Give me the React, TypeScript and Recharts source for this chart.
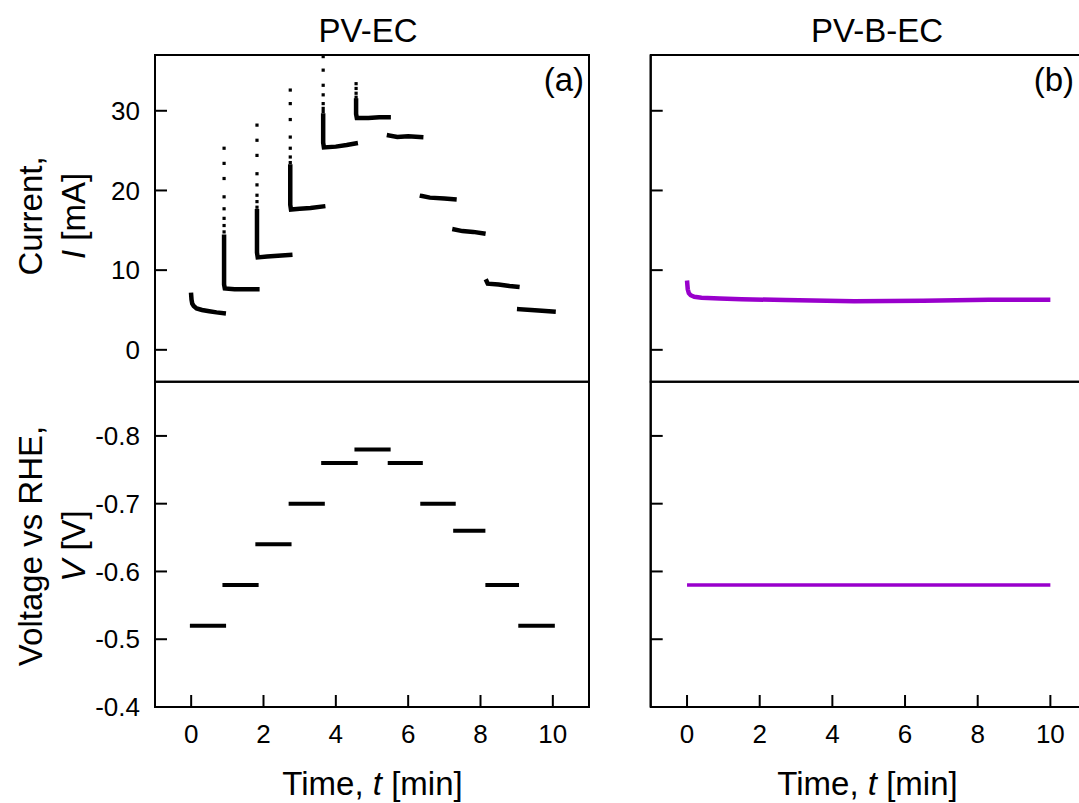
import { LineChart, Line, XAxis, YAxis, ReferenceArea } from 'recharts'

const FONT = '"Liberation Sans", Arial, Helvetica, sans-serif'
const BLACK = '#000000'
const PURPLE = '#9900cc'

// axes
const timeTicks = [0, 2, 4, 6, 8, 10]
const timeDomain = [-1, 11]
const currentTicks = [0, 10, 20, 30]
const currentDomain = [-4, 37]
const voltageTicks = [-0.8, -0.7, -0.6, -0.5, -0.4]
const voltageDomain = [-0.88, -0.4]

// PV-EC: applied voltage steps
const stepStart = [0.02, 0.92, 1.83, 2.75, 3.65, 4.57, 5.49, 6.39, 7.3, 8.19, 9.1]
const stepEnd = [0.91, 1.81, 2.72, 3.64, 4.55, 5.46, 6.35, 7.26, 8.08, 9.01, 10.0]
const stepVoltage = [-0.52, -0.58, -0.64, -0.7, -0.76, -0.78, -0.76, -0.7, -0.66, -0.58, -0.52]

// PV-EC: sparse current points right after a step up
const spikeTime = [0.91, 1.82, 2.74, 3.65, 4.56]
const spikeCurrent = [
  [25.3, 23.4, 21.5, 19.2, 17.7, 16.5, 15.6, 14.8],
  [28.2, 26.3, 24.4, 22.1, 20.7, 19.4, 18.6, 17.9],
  [32.6, 30.9, 28.9, 26.7, 25.3, 24.2, 23.5],
  [36.8, 35.1, 33.2, 32.0, 30.9, 30.3, 29.9],
  [33.4, 32.8, 32.2, 31.7],
]

// PV-EC: dense current trace per step, [t, I]
const ecTrace1 = [[0.0, 6.9], [0.01, 6.3], [0.03, 5.8], [0.07, 5.5], [0.15, 5.2], [0.3, 5.0], [0.5, 4.85], [0.7, 4.7], [0.9, 4.6]]
const ecTrace2 = [[0.91, 14.2], [0.91, 8.2], [0.93, 7.7], [1.2, 7.6], [1.5, 7.6], [1.83, 7.6]]
const ecTrace3 = [[1.82, 17.4], [1.82, 12.2], [1.84, 11.6], [2.1, 11.7], [2.4, 11.8], [2.74, 11.9]]
const ecTrace4 = [[2.74, 23.0], [2.74, 18.2], [2.76, 17.6], [3.0, 17.7], [3.3, 17.8], [3.65, 18.0]]
const ecTrace5 = [[3.65, 29.4], [3.65, 26.0], [3.67, 25.4], [4.0, 25.5], [4.3, 25.7], [4.55, 25.9]]
const ecTrace6 = [[4.56, 31.3], [4.56, 29.6], [4.58, 29.1], [4.9, 29.1], [5.2, 29.2], [5.46, 29.2]]
const ecTrace7 = [[5.47, 26.9], [5.7, 26.7], [6.0, 26.8], [6.36, 26.7]]
const ecTrace8 = [[6.38, 19.3], [6.6, 19.1], [7.0, 19.0], [7.28, 18.9]]
const ecTrace9 = [[7.28, 15.1], [7.5, 14.9], [7.8, 14.8], [8.08, 14.6]]
const ecTrace10 = [[8.17, 8.6], [8.2, 8.3], [8.5, 8.2], [8.8, 8.0], [9.02, 7.9]]
const ecTrace11 = [[9.07, 5.1], [9.4, 5.0], [9.7, 4.9], [10.02, 4.8]]
const ecTraces = [ecTrace1, ecTrace2, ecTrace3, ecTrace4, ecTrace5, ecTrace6, ecTrace7, ecTrace8, ecTrace9, ecTrace10, ecTrace11]

// PV-B-EC
const becCurrent = [[0, 8.7], [0.01, 8.1], [0.02, 7.6], [0.05, 7.1], [0.1, 6.85], [0.2, 6.65], [0.4, 6.55], [0.9, 6.45], [1.5, 6.35], [2.7, 6.25], [4.6, 6.1], [6.5, 6.15], [8.3, 6.3], [10, 6.3]]
const becVoltage = [[0, -0.58], [10, -0.58]]

const toPts = (pairs: number[][]) => pairs.map(([t, v]) => ({ t, v }))

const TICK_LEN = 12
const TICK_FONT = 26

function SquareDot(props: any) {
  const { cx, cy, index } = props
  if (cx == null || cy == null) return <g key={`d${index}`} />
  return <rect key={`d${index}-${cx}-${cy}`} x={cx - 1.6} y={cy - 1.6} width={3.2} height={3.2} fill={BLACK} />
}

// inward tick marks, labels outside the frame
const makeYTick = (labels: boolean, fmt: (v: number) => string) => (p: any) => (
  <g>
    <line x1={p.x} x2={p.x + TICK_LEN} y1={p.y} y2={p.y} stroke={BLACK} strokeWidth={2} />
    {labels && (
      <text x={p.x - 15} y={p.y} dy="0.355em" textAnchor="end" fontSize={TICK_FONT} fontFamily={FONT} fill={BLACK}>
        {fmt(p.payload.value)}
      </text>
    )}
  </g>
)

const makeXTick = (labels: boolean) => (p: any) => (
  <g>
    <line x1={p.x} x2={p.x} y1={p.y} y2={p.y - TICK_LEN} stroke={BLACK} strokeWidth={2} />
    {labels && (
      <text x={p.x} y={p.y + 36} textAnchor="middle" fontSize={TICK_FONT} fontFamily={FONT} fill={BLACK}>
        {String(p.payload.value)}
      </text>
    )}
  </g>
)

type PanelProps = {
  left: number
  top: number
  width: number
  height: number
  margin: { top: number; right: number; bottom: number; left: number }
  yDomain: number[]
  yTicks: number[]
  reversed?: boolean
  yLabels: boolean
  xLabels: boolean
  fmt: (v: number) => string
  children: any
}

function Panel({ left, top, width, height, margin, yDomain, yTicks, reversed, yLabels, xLabels, fmt, children }: PanelProps) {
  return (
    <div style={{ position: 'absolute', left, top }}>
      <LineChart width={width} height={height} margin={margin}>
        <XAxis
          dataKey="t"
          type="number"
          domain={timeDomain}
          ticks={timeTicks}
          allowDataOverflow
          height={xLabels ? 40 : 0}
          tickSize={0}
          tickMargin={0}
          tickLine={false}
          tick={makeXTick(xLabels)}
          axisLine={{ stroke: BLACK, strokeWidth: 2 }}
        />
        <YAxis
          dataKey="v"
          type="number"
          domain={yDomain}
          ticks={yTicks}
          reversed={reversed}
          allowDataOverflow
          width={60}
          tickSize={0}
          tickMargin={0}
          tickLine={false}
          tick={makeYTick(yLabels, fmt)}
          axisLine={{ stroke: BLACK, strokeWidth: 2 }}
        />
        <ReferenceArea
          x1={timeDomain[0]}
          x2={timeDomain[1]}
          y1={yDomain[0]}
          y2={yDomain[1]}
          fill="none"
          fillOpacity={0}
          stroke={BLACK}
          strokeWidth={2}
        />
        {children}
      </LineChart>
    </div>
  )
}

export default function App() {
  const topMargin = { top: 55, right: 11, bottom: 18.3, left: 95 }
  const bottomMargin = { top: 11.7, right: 11, bottom: 56, left: 95 }
  const topMarginR = { top: 55, right: 13.3, bottom: 18.3, left: 90.7 }
  const bottomMarginR = { top: 11.7, right: 13.3, bottom: 56, left: 90.7 }
  const iFmt = (v: number) => String(v)
  const vFmt = (v: number) => v.toFixed(1)

  return (
    <div
      style={{
        position: 'fixed',
        left: 0,
        top: 0,
        width: 1079,
        height: 803,
        overflow: 'hidden',
        background: '#fff',
        fontFamily: FONT,
      }}
    >
      {/* (a) current, PV-EC */}
      <Panel left={0} top={0} width={600} height={400} margin={topMargin} yDomain={currentDomain} yTicks={currentTicks} yLabels xLabels={false} fmt={iFmt}>
        {ecTraces.map((tr, i) => (
          <Line
            key={`ec${i}`}
            data={toPts(tr)}
            dataKey="v"
            stroke={BLACK}
            strokeWidth={4.5}
            strokeLinecap="square"
            dot={false}
            activeDot={false}
            isAnimationActive={false}
          />
        ))}
        {spikeCurrent.map((vals, i) => (
          <Line
            key={`sp${i}`}
            data={vals.map((v) => ({ t: spikeTime[i], v }))}
            dataKey="v"
            stroke="none"
            dot={SquareDot}
            activeDot={false}
            isAnimationActive={false}
          />
        ))}
      </Panel>

      {/* voltage, PV-EC */}
      <Panel left={0} top={370} width={600} height={433} margin={bottomMargin} yDomain={voltageDomain} yTicks={voltageTicks} reversed yLabels xLabels fmt={vFmt}>
        {stepVoltage.map((v, i) => (
          <Line
            key={`st${i}`}
            data={[{ t: stepStart[i], v }, { t: stepEnd[i], v }]}
            dataKey="v"
            stroke={BLACK}
            strokeWidth={4}
            strokeLinecap="square"
            dot={false}
            activeDot={false}
            isAnimationActive={false}
          />
        ))}
      </Panel>

      {/* (b) current, PV-B-EC */}
      <Panel left={500} top={0} width={600} height={400} margin={topMarginR} yDomain={currentDomain} yTicks={currentTicks} yLabels={false} xLabels={false} fmt={iFmt}>
        <Line data={toPts(becCurrent)} dataKey="v" stroke={PURPLE} strokeWidth={4.5} dot={false} activeDot={false} isAnimationActive={false} />
      </Panel>

      {/* voltage, PV-B-EC */}
      <Panel left={500} top={370} width={600} height={433} margin={bottomMarginR} yDomain={voltageDomain} yTicks={voltageTicks} reversed yLabels={false} xLabels fmt={vFmt}>
        <Line data={toPts(becVoltage)} dataKey="v" stroke={PURPLE} strokeWidth={3.5} dot={false} activeDot={false} isAnimationActive={false} />
      </Panel>

      <svg width={1079} height={803} style={{ position: 'absolute', left: 0, top: 0, pointerEvents: 'none' }} fontFamily={FONT} fill={BLACK}>
        <text x={368} y={42} fontSize={33} textAnchor="middle">PV-EC</text>
        <text x={877} y={42} fontSize={33} textAnchor="middle">PV-B-EC</text>
        <text x={584} y={91} fontSize={33} textAnchor="end">(a)</text>
        <text x={1074} y={91} fontSize={33} textAnchor="end">(b)</text>
        <text x={372.5} y={795} fontSize={33} textAnchor="middle">
          Time, <tspan fontStyle="italic">t</tspan> [min]
        </text>
        <text x={867.5} y={795} fontSize={33} textAnchor="middle">
          Time, <tspan fontStyle="italic">t</tspan> [min]
        </text>
        <text transform="rotate(-90)" x={-216} y={42} fontSize={33} textAnchor="middle">Current,</text>
        <text transform="rotate(-90)" x={-216} y={85} fontSize={33} textAnchor="middle">
          <tspan fontStyle="italic">I</tspan> [mA]
        </text>
        <text transform="rotate(-90)" x={-546} y={42} fontSize={33} textAnchor="middle">Voltage vs RHE,</text>
        <text transform="rotate(-90)" x={-546} y={85} fontSize={33} textAnchor="middle">
          <tspan fontStyle="italic">V</tspan> [V]
        </text>
      </svg>
    </div>
  )
}
